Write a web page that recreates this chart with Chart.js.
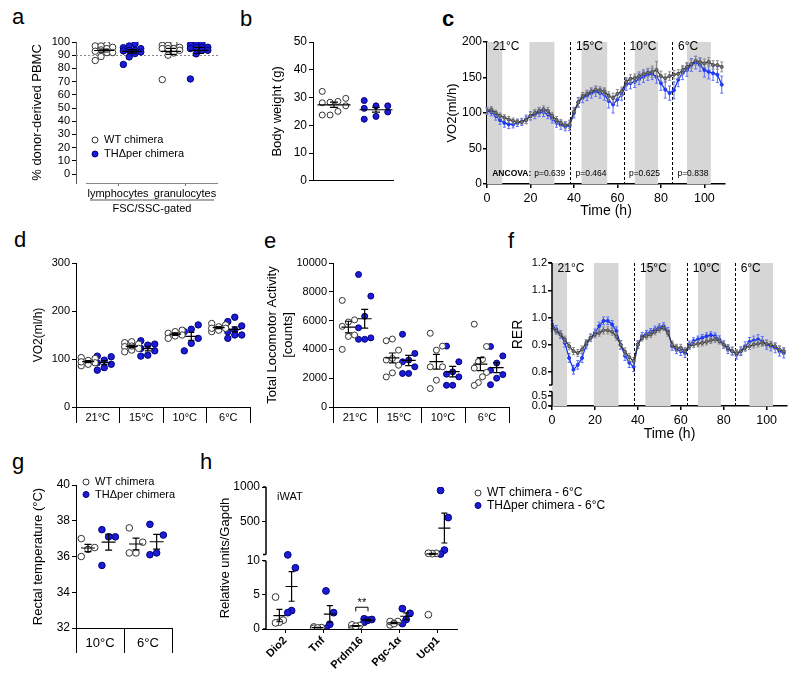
<!DOCTYPE html>
<html>
<head>
<meta charset="utf-8">
<script src="https://cdn.jsdelivr.net/npm/chart.js@4.4.1/dist/chart.umd.min.js"></script>
<style>
  body { margin: 0; background: #fff; }
  #fig { position: relative; width: 800px; height: 679px; overflow: hidden; background: #fff; }
  #fig canvas { position: absolute; }
  .letter { position: absolute; font: 22px/22px "Liberation Sans", Arial, sans-serif; color: #000; }
</style>
</head>
<body>
<div id="fig">
  <span class="letter" style="left:12px;top:6px">a</span>
  <span class="letter" style="left:240px;top:8px">b</span>
  <span class="letter" style="left:442px;top:8px;font-weight:bold">c</span>
  <span class="letter" style="left:14px;top:229px">d</span>
  <span class="letter" style="left:264px;top:230px">e</span>
  <span class="letter" style="left:508px;top:230px">f</span>
  <span class="letter" style="left:12px;top:451px">g</span>
  <span class="letter" style="left:200px;top:451px">h</span>
</div>
<script>
// ---------- data ----------
const legendLabels = ['WT chimera', 'THΔper chimera'];
const hLegend = ['WT chimera - 6°C', 'THΔper chimera - 6°C'];

// a: % donor-derived PBMC
const aCats = ['lymphocytes', 'granulocytes'];
const aGate = 'FSC/SSC-gated';
const aWT = [[97, 98, 97, 96, 94, 93, 95, 92, 92, 89, 86], [99, 97.5, 97.5, 96, 95, 95, 93.7, 91.7, 90, 71.5, 95]];
const aKO = [[98.7, 97, 95, 95.7, 93.2, 92.4, 93.7, 91.2, 88.7, 83, 93.7], [99, 99, 98, 96, 95, 96, 96, 93.7, 93.7, 91, 72]];

// b: body weight
const bWT = [32.2, 29.7, 28.3, 28.1, 28.6, 25, 23.7, 23.7, 27];
const bKO = [28.9, 27, 26.1, 24.8, 23.2, 27, 22.2];

// c / f: time course
const hours = [0, 2, 4, 6, 8, 10, 12, 14, 16, 18, 20, 22, 24, 26, 28, 30, 32, 34, 36, 38, 40, 42, 44, 46, 48, 50, 52, 54,
  56, 58, 60, 62, 64, 66, 68, 70, 72, 74, 76, 78, 80, 82, 84, 86, 88, 90, 92, 94, 96, 98, 100, 102, 104, 106, 108];
const darkPhases = [[0, 7], [19.5, 31], [43.5, 55.3], [68, 78.7], [92, 103]];
const tempSwitch = [38.4, 63, 85.3];
const tempCats = ['21°C', '15°C', '10°C', '6°C'];
const ancovaP = ['p=0.639', 'p=0.464', 'p=0.625', 'p=0.838'];

const cWT = [103, 105, 100, 96, 93.5, 91, 89, 87.5, 87.5, 90, 96, 100, 103, 105, 103, 96, 90, 86, 83, 84, 102, 115, 124, 127,
  130.5, 133, 132, 130.5, 124, 121, 127, 130.5, 144, 148, 149, 152, 155, 157, 158, 160.6, 152, 149, 152, 154, 155, 160.6,
  165, 169, 173.6, 172, 170, 172, 167.6, 167.6, 165];
const cWTsem = [4, 4, 4, 4, 4, 4, 4, 4, 4, 5, 5, 5, 5, 5, 5, 5, 5, 5, 5, 6, 6, 6, 5, 5, 5, 5, 5, 5, 6, 7,
  6, 6, 6, 6, 6, 6, 6, 6, 8, 12, 7, 6, 6, 6, 6, 6, 6, 6, 6, 6, 6, 6, 6, 6, 7];
const cKO = [103, 101, 96, 90, 86, 84, 84, 86, 87.5, 91, 96, 98, 101, 101, 98, 92, 86, 83, 81, 82, 100, 115, 121.5, 124.5,
  128, 130.5, 128, 126, 117, 112, 119, 126, 140, 142, 144, 148, 151, 154, 155, 151, 142, 133, 128, 132, 147, 156,
  160.6, 167.6, 171, 167.6, 160.6, 158, 156, 154, 140];
const cKOsem = [5, 5, 6, 6, 6, 6, 5, 5, 5, 6, 6, 6, 6, 6, 6, 6, 6, 6, 6, 7, 7, 7, 7, 7, 7, 7, 7, 8, 10, 12,
  9, 8, 8, 8, 8, 8, 8, 8, 8, 9, 10, 12, 10, 12, 10, 9, 9, 9, 9, 9, 10, 10, 10, 11, 12];

const fWT = [0.963, 0.951, 0.938, 0.92, 0.895, 0.877, 0.870, 0.883, 0.907, 0.926, 0.938, 0.944, 0.953, 0.953, 0.948,
  0.93, 0.90, 0.875, 0.855, 0.84, 0.901, 0.926, 0.932, 0.938, 0.948, 0.957, 0.963, 0.944, 0.901, 0.889, 0.889, 0.877,
  0.895, 0.901, 0.904, 0.907, 0.911, 0.916, 0.92, 0.914, 0.901, 0.889, 0.877, 0.870, 0.877, 0.889, 0.895, 0.901,
  0.904, 0.907, 0.904, 0.901, 0.895, 0.883, 0.877];
const fWTsem = [0.012, 0.012, 0.012, 0.012, 0.013, 0.013, 0.013, 0.013, 0.012, 0.012, 0.012, 0.012, 0.013, 0.013, 0.013,
  0.013, 0.014, 0.014, 0.014, 0.014, 0.012, 0.012, 0.011, 0.011, 0.011, 0.011, 0.011, 0.012, 0.013, 0.013, 0.013, 0.013,
  0.012, 0.011, 0.011, 0.011, 0.011, 0.011, 0.011, 0.011, 0.012, 0.012, 0.012, 0.012, 0.012, 0.012, 0.012, 0.012,
  0.012, 0.012, 0.012, 0.012, 0.012, 0.013, 0.013];
const fKO = [0.975, 0.957, 0.938, 0.907, 0.852, 0.809, 0.827, 0.852, 0.901, 0.926, 0.944, 0.969, 0.988, 0.988, 0.975,
  0.951, 0.90, 0.86, 0.835, 0.82, 0.901, 0.932, 0.941, 0.948, 0.957, 0.965, 0.969, 0.951, 0.895, 0.883, 0.877, 0.870,
  0.901, 0.914, 0.92, 0.926, 0.932, 0.936, 0.932, 0.92, 0.901, 0.883, 0.877, 0.864, 0.877, 0.895, 0.911, 0.916,
  0.92, 0.914, 0.901, 0.895, 0.889, 0.877, 0.870];
const fKOsem = [0.015, 0.014, 0.014, 0.015, 0.016, 0.016, 0.016, 0.016, 0.015, 0.014, 0.014, 0.014, 0.014, 0.014, 0.014,
  0.015, 0.016, 0.017, 0.018, 0.018, 0.014, 0.013, 0.012, 0.012, 0.012, 0.012, 0.012, 0.013, 0.015, 0.015, 0.016, 0.016,
  0.013, 0.012, 0.012, 0.012, 0.012, 0.012, 0.012, 0.013, 0.014, 0.015, 0.015, 0.016, 0.016, 0.016, 0.016, 0.016,
  0.017, 0.017, 0.017, 0.017, 0.018, 0.018, 0.018];
const fTicks = [0, 0.5, 0.8, 0.9, 1.0, 1.1, 1.2];
const fTickLabels = ['0.0', '0.5', '0.8', '0.9', '1.0', '1.1', '1.2'];

// d: VO2 per temperature
const dWT = [[97, 103, 101, 92, 89, 86, 94], [134, 131, 136, 125.6, 122, 118.6, 115, 127], [160, 157, 153.5, 150, 148, 143],
  [174, 167, 171, 160, 157, 164, 164]];
const dKO = [[106, 104.7, 97.7, 92, 89, 82, 76.7], [138, 129, 131, 122, 108, 106, 117], [171, 162, 157, 143, 132.6, 117],
  [187, 178, 169, 160, 157, 150, 150, 143]];

// e: locomotor activity
const eWT = [[7400, 6050, 5900, 5600, 5000, 4900, 4000], [4720, 4600, 3950, 3370, 3260, 2900, 2370, 2090],
  [5120, 4230, 3950, 2790, 2790, 1860, 1280], [5750, 4200, 3300, 3150, 2700, 2400, 2100, 1700, 1500]];
const eKO = [[9200, 7700, 6300, 5500, 4800, 4700, 4700], [5050, 3720, 3260, 3140, 2790, 2330, 2330],
  [4230, 3140, 2440, 2280, 2090, 1510, 1510], [4200, 3550, 3050, 2550, 2250, 2000, 1550]];

// g: rectal temperature
const gCats = ['10°C', '6°C'];
const gWT = [[37.0, 36.5, 36.4, 36.0], [37.6, 36.8, 36.2, 36.2]];
const gKO = [[37.5, 37.1, 37.1, 35.5], [37.8, 37.2, 36.1, 36.2]];

// h: iWAT gene expression
const hCats = ['Dio2', 'Tnf', 'Prdm16', 'Pgc-1α', 'Ucp1'];
const hWT = [[4.7, 1.3, 1.0, 0.9], [0.3, 0.1, 0.2, 0.15], [0.5, 0.3, 0.6, 0.4], [1.1, 0.6, 1.1, 0.8], [34, 30, 36, 2.1]];
const hKO = [[10.9, 9.0, 2.7, 2.4], [5.6, 0.7, 0.1, 2.4], [1.5, 1.0, 1.3, 1.4], [3.0, 2.3, 1.4, 0.8], [950, 555, 82, 24]];
const hTicks = [0, 5, 10, 500, 1000];

// ---------- setup ----------
const FONT = '"Liberation Sans", Arial, sans-serif';
const BLUE = '#1c1cd6';
Chart.defaults.font.family = FONT;
Chart.defaults.color = '#000';
Chart.defaults.animation = false;
Chart.defaults.responsive = false;
Chart.defaults.plugins.legend.display = false;
Chart.defaults.plugins.tooltip.enabled = false;

const fig = document.getElementById('fig');

// broken axes: value -> position on a continuous axis
const transforms = {
  none: v => v,
  f: v => (v >= 0.75 ? v : 0.676 + v * 0.076),
  h: v => (v <= 11 ? v : 10.88 + (v - 10) / 99)
};

function canvasFor(area, yW, xH, padR) {
  const c = document.createElement('canvas');
  const left = area.l - yW, top = area.t - 10;
  c.width = area.r - left + padR;
  c.height = area.b - top + xH;
  c.style.left = left + 'px';
  c.style.top = top + 'px';
  fig.appendChild(c);
  return c;
}

function yScale(o) {
  return {
    type: 'linear', position: 'left', min: o.min, max: o.max,
    afterFit: s => { s.width = o.w; },
    afterBuildTicks: s => { s.ticks = o.ticks.map(v => ({value: v})); },
    grid: {drawOnChartArea: false, tickLength: 4, color: '#000', lineWidth: o.bw || 1},
    border: Object.assign({color: '#000', width: o.bw || 1}, o.border || {}),
    ticks: {font: {size: o.fs || 12}, padding: o.pad === undefined ? 2 : o.pad, autoSkip: false,
      callback: o.labels ? (v, i) => o.labels[i] : v => String(v)},
    title: {display: true, text: o.title, font: {size: o.tfs || 13}}
  };
}

function catAxis(labels, xH, tl, pad, fs) {
  return {
    type: 'category', labels: labels, position: 'bottom', offset: true,
    afterFit: s => { s.height = xH; },
    grid: {drawOnChartArea: false, offset: true, tickLength: tl, color: '#000'},
    border: {color: '#000'},
    ticks: {font: {size: fs}, padding: pad, maxRotation: 0, autoSkip: false}
  };
}

function timeAxis(xH) {
  return {
    type: 'linear', min: 0, max: 109.5,
    afterFit: s => { s.height = xH; },
    afterBuildTicks: s => { s.ticks = [0, 20, 40, 60, 80, 100].map(v => ({value: v})); },
    grid: {drawOnChartArea: false, tickLength: 4, color: '#000', lineWidth: 1.5},
    border: {color: '#000', width: 1.5},
    ticks: {font: {size: 12.5}, padding: 3, maxRotation: 0, callback: v => String(v)},
    title: {display: true, text: 'Time (h)', font: {size: 14}}
  };
}

// spread points of one group sideways by rank
function swarm(vals, center, spread, tf) {
  const order = vals.map((v, i) => [v, i]).sort((p, q) => p[0] - q[0]);
  const pat = vals.length > 8 ? [-1, -1 / 3, 1 / 3, 1] : [-1, 0, 1];
  const xs = [];
  order.forEach((p, k) => { xs[p[1]] = center + pat[k % pat.length] * spread; });
  return vals.map((v, i) => ({x: xs[i], y: tf(v)}));
}

function dotSets(wt, ko, base, offWT, offKO, spread, r, tfName) {
  const tf = transforms[tfName || 'none'];
  const wtPts = [], koPts = [];
  wt.forEach((vals, i) => wtPts.push(...swarm(vals, base + i + offWT, spread, tf)));
  ko.forEach((vals, i) => koPts.push(...swarm(vals, base + i + offKO, spread, tf)));
  return [
    {data: wtPts, pointRadius: r, pointBackgroundColor: '#fff', pointBorderColor: '#333', pointBorderWidth: 1},
    {data: koPts, pointRadius: r, pointBackgroundColor: BLUE, pointBorderColor: '#00007a', pointBorderWidth: 1}
  ];
}

function meanGroups(wt, ko, base, offWT, offKO, meanW, capW, tfName) {
  const groups = [];
  wt.forEach((vals, i) => groups.push({x: base + i + offWT, vals: vals}));
  ko.forEach((vals, i) => groups.push({x: base + i + offKO, vals: vals}));
  return {groups: groups, meanW: meanW, capW: capW, tfName: tfName || 'none'};
}

function seriesSet(vals, errs, ko) {
  return {
    data: hours.map((h, i) => ({x: h, y: vals[i]})),
    errs: errs,
    errColor: ko ? '#5a6cff' : '#8c8c8c',
    showLine: true,
    borderColor: ko ? '#1530e8' : '#333',
    borderWidth: 1.2,
    pointRadius: 1.6,
    pointBackgroundColor: ko ? '#2040ff' : '#777',
    pointBorderColor: ko ? '#1530e8' : '#444',
    pointBorderWidth: 0.8
  };
}

function drawLegend(ctx, x, y, gap, labels, fs) {
  const fills = ['#fff', BLUE], strokes = ['#333', '#00007a'];
  labels.forEach((t, i) => {
    ctx.beginPath();
    ctx.arc(x, y + i * gap, 3, 0, Math.PI * 2);
    ctx.fillStyle = fills[i];
    ctx.fill();
    ctx.strokeStyle = strokes[i];
    ctx.lineWidth = 1;
    ctx.stroke();
    ctx.fillStyle = '#000';
    ctx.font = fs + 'px ' + FONT;
    ctx.textAlign = 'left';
    ctx.textBaseline = 'middle';
    ctx.fillText(t, x + 9, y + i * gap);
  });
}

function drawBrokenAxis(chart, segs) {
  const {ctx, chartArea: ar, scales: {y}} = chart;
  ctx.save();
  ctx.strokeStyle = '#000';
  ctx.lineWidth = 1.5;
  segs.forEach(s => {
    const y1 = y.getPixelForValue(s[0]), y2 = y.getPixelForValue(s[1]);
    ctx.beginPath();
    ctx.moveTo(ar.left, y1);
    ctx.lineTo(ar.left, y2);
    ctx.moveTo(ar.left - 3, y1);
    ctx.lineTo(ar.left, y1);
    ctx.moveTo(ar.left - 3, y2);
    ctx.lineTo(ar.left, y2);
    ctx.stroke();
  });
  ctx.restore();
}

// mean +/- SEM bars
Chart.register({
  id: 'meanSem',
  afterDatasetsDraw(chart, args, opts) {
    if (!opts.groups) return;
    const tf = transforms[opts.tfName || 'none'];
    const ctx = chart.ctx, xs = chart.scales.x, ys = chart.scales.y;
    ctx.save();
    ctx.strokeStyle = '#000';
    ctx.lineWidth = 1.2;
    opts.groups.forEach(g => {
      const vals = g.vals, n = vals.length;
      let m = 0;
      vals.forEach(v => { m += v; });
      m /= n;
      let ss = 0;
      vals.forEach(v => { ss += (v - m) * (v - m); });
      const se = Math.sqrt(ss / (n - 1)) / Math.sqrt(n);
      const x = xs.getPixelForValue(g.x);
      const ym = ys.getPixelForValue(tf(m)), yh = ys.getPixelForValue(tf(m + se)), yl = ys.getPixelForValue(tf(m - se));
      ctx.beginPath();
      ctx.moveTo(x - opts.meanW / 2, ym); ctx.lineTo(x + opts.meanW / 2, ym);
      ctx.moveTo(x, yh); ctx.lineTo(x, yl);
      ctx.moveTo(x - opts.capW / 2, yh); ctx.lineTo(x + opts.capW / 2, yh);
      ctx.moveTo(x - opts.capW / 2, yl); ctx.lineTo(x + opts.capW / 2, yl);
      ctx.stroke();
    });
    ctx.restore();
  }
});

// vertical SEM bars for the time courses
Chart.register({
  id: 'errBars',
  beforeDatasetDraw(chart, args) {
    const ds = chart.data.datasets[args.index];
    if (!ds.errs) return;
    const ctx = chart.ctx, ys = chart.scales.y;
    ctx.save();
    ctx.strokeStyle = ds.errColor;
    ctx.lineWidth = 1;
    args.meta.data.forEach((pt, i) => {
      const v = ds.data[i].y, e = ds.errs[i];
      const y1 = ys.getPixelForValue(v + e), y2 = ys.getPixelForValue(v - e);
      ctx.beginPath();
      ctx.moveTo(pt.x, y1); ctx.lineTo(pt.x, y2);
      ctx.moveTo(pt.x - 1.5, y1); ctx.lineTo(pt.x + 1.5, y1);
      ctx.moveTo(pt.x - 1.5, y2); ctx.lineTo(pt.x + 1.5, y2);
      ctx.stroke();
    });
    ctx.restore();
  }
});

// dark phases, temperature switches and labels
Chart.register({
  id: 'phases',
  beforeDatasetsDraw(chart, args, o) {
    if (!o.on) return;
    const {ctx, chartArea: ar, scales: {x}} = chart;
    ctx.save();
    ctx.fillStyle = '#d6d6d6';
    darkPhases.forEach(p => {
      const x1 = x.getPixelForValue(p[0]), x2 = x.getPixelForValue(p[1]);
      ctx.fillRect(x1, ar.top, x2 - x1, ar.bottom - ar.top);
    });
    ctx.strokeStyle = '#000';
    ctx.lineWidth = 1;
    ctx.setLineDash([3, 2]);
    tempSwitch.forEach(h => {
      const px = Math.round(x.getPixelForValue(h)) + 0.5;
      ctx.beginPath();
      ctx.moveTo(px, ar.top);
      ctx.lineTo(px, ar.bottom);
      ctx.stroke();
    });
    ctx.restore();
  },
  afterDatasetsDraw(chart, args, o) {
    if (!o.on) return;
    const {ctx, chartArea: ar, scales: {x}} = chart;
    const starts = [0].concat(tempSwitch);
    ctx.save();
    ctx.fillStyle = '#000';
    ctx.textAlign = 'left';
    ctx.textBaseline = 'middle';
    ctx.font = '12px ' + FONT;
    tempCats.forEach((t, i) => ctx.fillText(t, x.getPixelForValue(starts[i] + 2.6), ar.top + o.labelDy));
    if (o.ancova) {
      const y0 = ar.bottom - 10;
      ctx.font = 'bold 8.5px ' + FONT;
      const ax = x.getPixelForValue(2.4);
      ctx.fillText('ANCOVA:', ax, y0);
      const w = ctx.measureText('ANCOVA:').width;
      ctx.font = '8.5px ' + FONT;
      ancovaP.forEach((p, i) => {
        const px = i === 0 ? ax + w + 3 : x.getPixelForValue(starts[i] + 2.3);
        ctx.fillText(p, px, y0);
      });
    }
    ctx.restore();
  }
});

// ---------- a ----------
new Chart(canvasFor({l: 76, t: 42, r: 218, b: 183}, 50, 36, 16), {
  type: 'scatter',
  data: {datasets: dotSets(aWT, aKO, 1, -0.21, 0.21, 0.13, 3.2)},
  options: {
    layout: {padding: {top: 10, right: 16}},
    scales: {
      x: {type: 'linear', min: 0.373, max: 2.492,
        afterFit: s => { s.height = 36; },
        afterBuildTicks: s => { s.ticks = aCats.map((c, i) => ({value: i + 1})); },
        grid: {drawOnChartArea: false, tickLength: 3, color: '#777'},
        border: {display: false},
        ticks: {font: {size: 11}, padding: 1, maxRotation: 0, callback: (v, i) => aCats[i]}},
      y: yScale({min: -6.8, max: 100, ticks: [0, 10, 20, 30, 40, 50, 60, 70, 80, 90, 100], w: 50, fs: 11,
        title: '% donor-derived PBMC', tfs: 13, border: {dash: [1.5, 1.5], color: '#555'}})
    },
    plugins: {meanSem: meanGroups(aWT, aKO, 1, -0.21, 0.21, 20, 10)}
  },
  plugins: [{
    id: 'aExtras',
    beforeDatasetsDraw(chart) {
      const {ctx, chartArea: ar, scales: {y}} = chart;
      const yy = Math.round(y.getPixelForValue(90)) + 0.5;
      ctx.save();
      ctx.strokeStyle = '#888';
      ctx.setLineDash([2, 2]);
      ctx.beginPath();
      ctx.moveTo(ar.left, yy);
      ctx.lineTo(ar.right, yy);
      ctx.stroke();
      ctx.restore();
    },
    afterDraw(chart) {
      const {ctx, chartArea: ar} = chart;
      ctx.save();
      ctx.strokeStyle = '#888';
      ctx.lineWidth = 1;
      ctx.beginPath();
      ctx.moveTo(ar.left + 10, ar.bottom + 0.5);
      ctx.lineTo(ar.right, ar.bottom + 0.5);
      ctx.stroke();
      ctx.strokeStyle = '#aaa';
      ctx.lineWidth = 2;
      ctx.beginPath();
      ctx.moveTo(ar.left + 14, ar.bottom + 17);
      ctx.lineTo(ar.right - 4, ar.bottom + 17);
      ctx.stroke();
      ctx.fillStyle = '#000';
      ctx.font = '11px ' + FONT;
      ctx.textAlign = 'center';
      ctx.textBaseline = 'middle';
      ctx.fillText(aGate, (ar.left + ar.right + 10) / 2, ar.bottom + 26);
      drawLegend(ctx, ar.left + 19, ar.top + 98, 14, legendLabels, 11);
      ctx.restore();
    }
  }]
});

// ---------- b ----------
new Chart(canvasFor({l: 313, t: 42, r: 393, b: 184}, 47, 6, 10), {
  type: 'scatter',
  data: {datasets: dotSets([bWT], [bKO], 1, 0, 1, 0.28, 3)},
  options: {
    layout: {padding: {top: 10, right: 10}},
    scales: {
      x: {type: 'linear', min: 0.5, max: 2.405,
        afterFit: s => { s.height = 6; },
        grid: {display: false}, ticks: {display: false}, border: {color: '#000'}},
      y: yScale({min: 0, max: 50, ticks: [0, 10, 20, 30, 40, 50], w: 47, fs: 12, title: 'Body weight (g)', tfs: 13})
    },
    plugins: {meanSem: meanGroups([bWT], [bKO], 1, 0, 1, 33, 8)}
  }
});

// ---------- c ----------
new Chart(canvasFor({l: 487, t: 42, r: 725, b: 184}, 46, 40, 16), {
  type: 'scatter',
  data: {datasets: [seriesSet(cWT, cWTsem, false), seriesSet(cKO, cKOsem, true)]},
  options: {
    layout: {padding: {top: 10, right: 16}},
    scales: {
      x: timeAxis(40),
      y: yScale({min: 0, max: 200, ticks: [0, 50, 100, 150, 200], w: 46, fs: 12, pad: 1, bw: 1.5,
        title: 'VO2(ml/h)', tfs: 13})
    },
    plugins: {phases: {on: true, labelDy: 5, ancova: true}}
  }
});

// ---------- d ----------
new Chart(canvasFor({l: 76, t: 263, r: 250, b: 407}, 49, 20, 10), {
  type: 'scatter',
  data: {datasets: dotSets(dWT, dKO, 0, -0.22, 0.15, 0.16, 3.2)},
  options: {
    layout: {padding: {top: 10, right: 10}},
    scales: {
      x: {type: 'linear', display: false, min: -0.5, max: 3.5},
      xc: catAxis(tempCats, 20, 16, -12, 11),
      y: yScale({min: 0, max: 300, ticks: [0, 100, 200, 300], w: 49, fs: 11, title: 'VO2(ml/h)', tfs: 12})
    },
    plugins: {meanSem: meanGroups(dWT, dKO, 0, -0.22, 0.15, 12, 6)}
  }
});

// ---------- e ----------
new Chart(canvasFor({l: 333, t: 263, r: 509, b: 407}, 72, 20, 10), {
  type: 'scatter',
  data: {datasets: dotSets(eWT, eKO, 0, -0.15, 0.22, 0.14, 3)},
  options: {
    layout: {padding: {top: 10, right: 10}},
    scales: {
      x: {type: 'linear', display: false, min: -0.5, max: 3.5},
      xc: catAxis(tempCats, 20, 16, -12, 11),
      y: yScale({min: 0, max: 10000, ticks: [0, 2000, 4000, 6000, 8000, 10000], w: 72, fs: 11,
        title: ['Total Locomotor Activity', '[counts]'], tfs: 13})
    },
    plugins: {meanSem: meanGroups(eWT, eKO, 0, -0.15, 0.22, 14, 7)}
  }
});

// ---------- f ----------
new Chart(canvasFor({l: 552, t: 263, r: 787, b: 406}, 46, 41, 10), {
  type: 'scatter',
  data: {datasets: [seriesSet(fWT, fWTsem, false), seriesSet(fKO, fKOsem, true)]},
  options: {
    layout: {padding: {top: 10, right: 10}},
    scales: {
      x: timeAxis(41),
      y: yScale({min: 0.676, max: 1.2, ticks: fTicks.map(transforms.f), labels: fTickLabels, w: 46, fs: 11, pad: 1,
        bw: 1.5, title: 'RER', tfs: 14, border: {display: false}})
    },
    plugins: {phases: {on: true, labelDy: 6, ancova: false}}
  },
  plugins: [{
    id: 'fAxis',
    afterDraw(chart) { drawBrokenAxis(chart, [[0.676, 0.729], [0.753, 1.2]]); }
  }]
});

// ---------- g ----------
new Chart(canvasFor({l: 76, t: 485, r: 172, b: 628}, 49, 27, 120), {
  type: 'scatter',
  data: {datasets: dotSets(gWT, gKO, 0, -0.25, 0.18, 0.14, 3.3)},
  options: {
    layout: {padding: {top: 10, right: 120}},
    scales: {
      x: {type: 'linear', display: false, min: -0.5, max: 1.5},
      xc: catAxis(gCats, 27, 25, -17, 13),
      y: yScale({min: 32, max: 40, ticks: [32, 34, 36, 38, 40], w: 49, fs: 12,
        title: 'Rectal temperature (°C)', tfs: 13})
    },
    plugins: {meanSem: meanGroups(gWT, gKO, 0, -0.25, 0.18, 14, 7)}
  },
  plugins: [{
    id: 'gLegend',
    afterDraw(chart) {
      const {ctx, chartArea: ar} = chart;
      ctx.save();
      drawLegend(ctx, ar.left + 10, ar.top - 3, 12.5, legendLabels, 11);
      ctx.restore();
    }
  }]
});

// ---------- h ----------
new Chart(canvasFor({l: 266, t: 487, r: 457, b: 629}, 52, 45, 175), {
  type: 'scatter',
  data: {datasets: dotSets(hWT, hKO, 0, -0.15, 0.17, 0.1, 3.4, 'h')},
  options: {
    layout: {padding: {top: 10, right: 175}},
    scales: {
      x: {type: 'linear', display: false, min: -0.5, max: 4.5},
      xc: {type: 'category', labels: hCats, position: 'bottom', offset: true,
        afterFit: s => { s.height = 45; },
        grid: {drawOnChartArea: false, offset: false, tickLength: 4, color: '#000'},
        border: {color: '#000'},
        ticks: {font: {size: 11, weight: 'bold'}, padding: 1, minRotation: 45, maxRotation: 45, autoSkip: false}},
      y: yScale({min: 0, max: transforms.h(1000), ticks: hTicks.map(transforms.h), labels: hTicks.map(String),
        w: 52, fs: 12, title: 'Relative units/Gapdh', tfs: 13, border: {display: false}})
    },
    plugins: {meanSem: meanGroups(hWT, hKO, 0, -0.15, 0.17, 12, 6, 'h')}
  },
  plugins: [{
    id: 'hExtras',
    afterDraw(chart) {
      const {ctx, chartArea: ar, scales: {x, y}} = chart;
      drawBrokenAxis(chart, [[0, 10.05], [10.95, transforms.h(1000)]]);
      ctx.save();
      ctx.fillStyle = '#000';
      ctx.font = '11px ' + FONT;
      ctx.textAlign = 'left';
      ctx.textBaseline = 'middle';
      ctx.fillText('iWAT', ar.left + 11, ar.top + 10);
      // significance bracket for Prdm16
      const x1 = x.getPixelForValue(2 - 0.15), x2 = x.getPixelForValue(2 + 0.17);
      const yt = y.getPixelForValue(3.2), yb = y.getPixelForValue(2.6);
      ctx.strokeStyle = '#000';
      ctx.lineWidth = 1;
      ctx.beginPath();
      ctx.moveTo(x1, yb); ctx.lineTo(x1, yt); ctx.lineTo(x2, yt); ctx.lineTo(x2, yb);
      ctx.stroke();
      ctx.textAlign = 'center';
      ctx.fillText('**', (x1 + x2) / 2, y.getPixelForValue(3.9));
      drawLegend(ctx, ar.left + 212, ar.top + 6, 12.5, hLegend, 12);
      ctx.restore();
    }
  }]
});
</script>
</body>
</html>
